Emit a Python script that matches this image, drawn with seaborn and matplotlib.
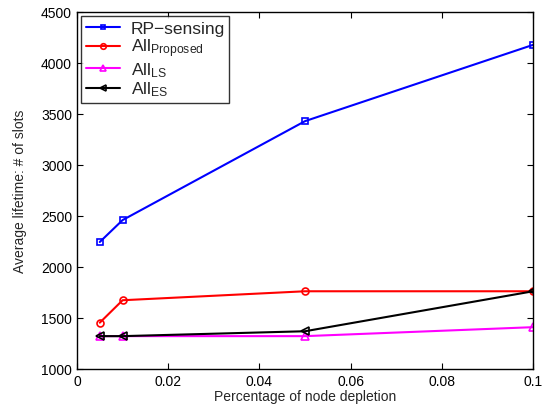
import pandas as pd
import seaborn as sns
import matplotlib
matplotlib.use("Agg")
import matplotlib.pyplot as plt

# values
depletion = [0.005, 0.01, 0.05, 0.1]
rp_sensing = [2245, 2460, 3430, 4178]
all_proposed = [1454, 1674, 1762, 1762]
all_ls = [1322, 1322, 1322, 1410]
all_es = [1322, 1322, 1370, 1762]

series = {
    "RP\u2212sensing": rp_sensing,
    "All$_{\\mathrm{Proposed}}$": all_proposed,
    "All$_{\\mathrm{LS}}$": all_ls,
    "All$_{\\mathrm{ES}}$": all_es,
}
rows = []
for name, vals in series.items():
    for x, v in zip(depletion, vals):
        rows.append({"x": x, "y": v, "method": name})
data = pd.DataFrame(rows)

sns.set_style("white")
plt.rcParams['font.family'] = ['Liberation Sans', 'DejaVu Sans']
plt.rcParams['mathtext.fontset'] = 'custom'
plt.rcParams['mathtext.rm'] = 'Liberation Sans'
plt.rcParams['mathtext.it'] = 'Liberation Sans'

fig = plt.figure(figsize=(5.44, 4.1), dpi=100)
ax = fig.add_axes([0.1415, 0.0976, 0.8385, 0.8707])

colors = ["#0000ff", "#ff0000", "#ff00ff", "#000000"]
markers = ["s", "o", "^", "<"]
sizes = [4, 5, 6, 6]
for (name, vals), c, m, ms in zip(series.items(), colors, markers, sizes):
    sub = data[data["method"] == name]
    sns.lineplot(x="x", y="y", data=sub, ax=ax, color=c, marker=m,
                 markersize=ms, markerfacecolor="none", markeredgecolor=c,
                 markeredgewidth=1.2, linewidth=1.5, label=name)

ax.set_xlim(0, 0.1)
ax.set_ylim(1000, 4500)
ax.set_xticks([0, 0.02, 0.04, 0.06, 0.08, 0.1])
ax.set_xticklabels(["0", "0.02", "0.04", "0.06", "0.08", "0.1"])
ax.set_yticks(range(1000, 4501, 500))
ax.tick_params(direction="in", length=4, top=True, right=True,
               bottom=True, left=True, labelsize=10, colors="black")
for s in ax.spines.values():
    s.set_color("black")
    s.set_linewidth(1.0)
ax.set_xlabel("Percentage of node depletion", fontsize=10, labelpad=1)
ax.set_ylabel("Average lifetime: # of slots", fontsize=10, labelpad=10)

leg = ax.legend(loc="upper left", fontsize=12.5, frameon=True, fancybox=False,
                borderpad=0.25, labelspacing=0.05, handlelength=2.0,
                handletextpad=0.6, borderaxespad=0.25, markerscale=0.8)
leg.get_frame().set_edgecolor("black")
leg.get_frame().set_linewidth(1.0)

fig.savefig("out.png", dpi=100)
